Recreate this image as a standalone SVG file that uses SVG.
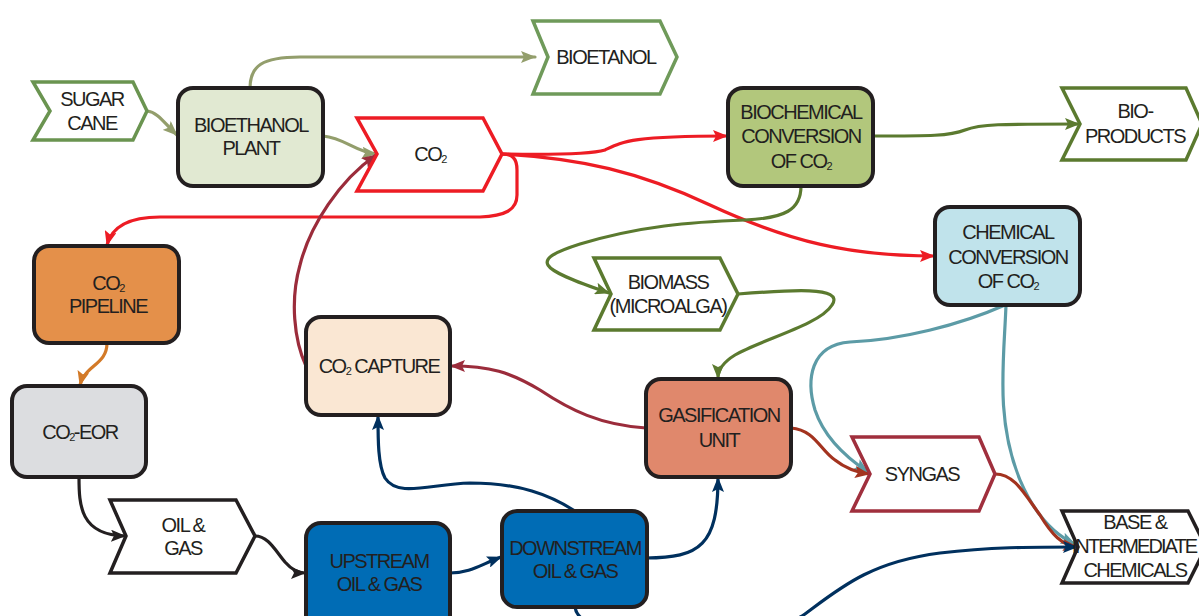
<svg xmlns="http://www.w3.org/2000/svg" width="1199" height="616" viewBox="0 0 1199 616">
<style>
.box{stroke:#231f20;stroke-width:4}
.chev{fill:#fff;stroke-width:3.5;stroke-linejoin:miter}
.t{font-family:"Liberation Sans",Arial,sans-serif;font-size:20px;letter-spacing:-1.5px;fill:#231f20;text-anchor:middle}
.c{fill:none;stroke-width:3.2;stroke-linecap:round}
</style>
<defs>
<marker id="a-olive" markerUnits="userSpaceOnUse" markerWidth="15" markerHeight="12" refX="14" refY="6" orient="auto"><path d="M0,0 L15,6 L0,12 L3,6 Z" fill="#939e6c"/></marker>
<marker id="a-red" markerUnits="userSpaceOnUse" markerWidth="15" markerHeight="12" refX="14" refY="6" orient="auto"><path d="M0,0 L15,6 L0,12 L3,6 Z" fill="#ed1c24"/></marker>
<marker id="a-green" markerUnits="userSpaceOnUse" markerWidth="15" markerHeight="12" refX="14" refY="6" orient="auto"><path d="M0,0 L15,6 L0,12 L3,6 Z" fill="#5b7a2f"/></marker>
<marker id="a-teal" markerUnits="userSpaceOnUse" markerWidth="15" markerHeight="12" refX="14" refY="6" orient="auto"><path d="M0,0 L15,6 L0,12 L3,6 Z" fill="#5c9ba6"/></marker>
<marker id="a-brown" markerUnits="userSpaceOnUse" markerWidth="15" markerHeight="12" refX="14" refY="6" orient="auto"><path d="M0,0 L15,6 L0,12 L3,6 Z" fill="#a3331f"/></marker>
<marker id="a-crimson" markerUnits="userSpaceOnUse" markerWidth="15" markerHeight="12" refX="14" refY="6" orient="auto"><path d="M0,0 L15,6 L0,12 L3,6 Z" fill="#9b2c3b"/></marker>
<marker id="a-navy" markerUnits="userSpaceOnUse" markerWidth="15" markerHeight="12" refX="14" refY="6" orient="auto"><path d="M0,0 L15,6 L0,12 L3,6 Z" fill="#00305e"/></marker>
<marker id="a-black" markerUnits="userSpaceOnUse" markerWidth="15" markerHeight="12" refX="14" refY="6" orient="auto"><path d="M0,0 L15,6 L0,12 L3,6 Z" fill="#231f20"/></marker>
<marker id="a-orange" markerUnits="userSpaceOnUse" markerWidth="15" markerHeight="12" refX="14" refY="6" orient="auto"><path d="M0,0 L15,6 L0,12 L3,6 Z" fill="#d37a28"/></marker>
</defs>
<rect width="1199" height="616" fill="#fff"/>

<g id="connectors">
<path class="c" stroke="#939e6c" d="M147,111 C158,112 165,124 177,135" marker-end="url(#a-olive)"/>
<path class="c" stroke="#939e6c" d="M250,88 C250,66 262,57 300,57 L535,57" marker-end="url(#a-olive)"/>
<path class="c" stroke="#939e6c" d="M323,136 C345,138 355,152 376,154" marker-end="url(#a-olive)"/>
<path class="c" stroke="#ed1c24" d="M502,154 C560,155 592,154 605,150 C622,142 630,136 727,136" marker-end="url(#a-red)"/>
<path class="c" stroke="#ed1c24" d="M502,154 C580,158 640,172 710,205 C790,242 850,256 934,256" marker-end="url(#a-red)"/>
<path class="c" stroke="#ed1c24" d="M502,154 C512,154 517,158 517,170 L517,195 C517,210 505,216 480,217 L160,217 C130,217 112,226 107,245" marker-end="url(#a-red)"/>
<path class="c" stroke="#5b7a2f" d="M801,186 C801,210 785,218 745,220 C690,222 640,226 580,244 C530,260 535,268 609,293" marker-end="url(#a-green)"/>
<path class="c" stroke="#5b7a2f" d="M738,294 C790,290 845,286 832,305 C820,325 760,340 735,355 C722,363 718,370 718,378" marker-end="url(#a-green)"/>
<path class="c" stroke="#5b7a2f" d="M873,136 C930,136 950,136 965,130 C980,124 1000,124 1079,124" marker-end="url(#a-green)"/>
<path class="c" stroke="#5c9ba6" d="M1005,305 C960,325 900,340 850,342 C810,345 806,380 815,410 C825,440 850,460 868,472" marker-end="url(#a-teal)"/>
<path class="c" stroke="#5c9ba6" d="M1006,305 C1004,360 995,420 1020,480 C1035,515 1055,535 1075,544" marker-end="url(#a-teal)"/>
<path class="c" stroke="#a3331f" d="M995,474 C1015,474 1025,495 1040,515 C1052,535 1062,545 1077,547" marker-end="url(#a-brown)"/>
<path class="c" stroke="#a3331f" d="M791,428 C815,430 820,450 835,460 C845,468 855,472 869,474" marker-end="url(#a-brown)"/>
<path class="c" stroke="#9b2c3b" d="M646,428 C600,425 570,410 540,390 C510,372 490,366 451,366" marker-end="url(#a-crimson)"/>
<path class="c" stroke="#9b2c3b" d="M306,366 C294,340 290,300 300,265 C310,225 340,180 376,155" marker-end="url(#a-crimson)"/>
<path class="c" stroke="#00305e" d="M575,511 C550,495 520,483 470,483 C430,484 398,498 385,478 C378,465 378,440 378,416" marker-end="url(#a-navy)"/>
<path class="c" stroke="#00305e" d="M450,573 C470,573 480,565 501,557" marker-end="url(#a-navy)"/>
<path class="c" stroke="#00305e" d="M646,558 C700,558 718,545 718,478" marker-end="url(#a-navy)"/>
<path class="c" stroke="#00305e" d="M575,607 C580,650 770,640 805,614 C840,588 870,562 940,553 C990,547 1030,547 1077,547" marker-end="url(#a-navy)"/>
<path class="c" stroke="#231f20" d="M255,536 C268,536 275,550 285,562 C292,570 298,573 305,573" marker-end="url(#a-black)"/>
<path class="c" stroke="#231f20" d="M79,477 C79,505 80,535 125,536" marker-end="url(#a-black)"/>
<path class="c" stroke="#d37a28" d="M107,343 C107,365 85,365 80,385" marker-end="url(#a-orange)"/>
</g>

<g id="sugar-cane">
<path class="chev" stroke="#6a9450" d="M33,82 L133,82 L147,111 L133,140 L33,140 L50,111 Z"/>
<text class="t" x="92" y="106">SUGAR</text>
<text class="t" x="92" y="130">CANE</text>
</g>
<g id="bioethanol-plant">
<rect class="box" x="178" y="88" width="145" height="98" rx="15" fill="#e1e9d2"/>
<text class="t" x="251" y="132">BIOETHANOL</text>
<text class="t" x="251" y="155">PLANT</text>
</g>
<g id="bioetanol">
<path class="chev" stroke="#6f9a5a" d="M533,21 L660,21 L677,57 L660,94 L533,94 L548,57 Z"/>
<text class="t" x="606" y="64">BIOETANOL</text>
</g>
<g id="co2">
<path class="chev" stroke="#ed1c24" d="M357,118 L483,118 L502,154 L483,191 L357,191 L377,154 Z"/>
<text class="t" x="430" y="161">CO<tspan font-size="11" dy="2">2</tspan></text>
</g>
<g id="biochemical-conversion">
<rect class="box" x="728" y="88" width="145" height="98" rx="15" fill="#b2c77c"/>
<text class="t" x="801" y="119">BIOCHEMICAL</text>
<text class="t" x="801" y="143">CONVERSION</text>
<text class="t" x="801" y="168">OF CO<tspan font-size="11" dy="2">2</tspan></text>
</g>
<g id="bio-products">
<path class="chev" stroke="#5b7a2f" d="M1062,88 L1186,88 L1202,124 L1186,160 L1062,160 L1080,124 Z"/>
<text class="t" x="1135" y="118">BIO-</text>
<text class="t" x="1135" y="143">PRODUCTS</text>
</g>
<g id="chemical-conversion">
<rect class="box" x="935" y="207" width="145" height="98" rx="15" fill="#c0e3eb"/>
<text class="t" x="1008" y="239">CHEMICAL</text>
<text class="t" x="1008" y="264">CONVERSION</text>
<text class="t" x="1008" y="288">OF CO<tspan font-size="11" dy="2">2</tspan></text>
</g>
<g id="biomass">
<path class="chev" stroke="#5b7a2f" d="M594,258 L720,258 L738,294 L720,330 L594,330 L611,294 Z"/>
<text class="t" x="668" y="289">BIOMASS</text>
<text class="t" x="668" y="313">(MICROALGA)</text>
</g>
<g id="co2-pipeline">
<rect class="box" x="34" y="246" width="145" height="97" rx="15" fill="#e4904a"/>
<text class="t" x="108" y="290">CO<tspan font-size="11" dy="2">2</tspan></text>
<text class="t" x="108" y="313">PIPELINE</text>
</g>
<g id="co2-eor">
<rect class="box" x="12" y="386" width="134" height="91" rx="15" fill="#dcdde0"/>
<text class="t" x="80" y="439">CO<tspan font-size="11" dy="2">2</tspan><tspan dy="-2">-EOR</tspan></text>
</g>
<g id="oil-gas">
<path class="chev" stroke="#231f20" d="M110,500 L236,500 L255,536 L236,573 L110,573 L126,536 Z"/>
<text class="t" x="183" y="532">OIL &amp;</text>
<text class="t" x="183" y="555">GAS</text>
</g>
<g id="co2-capture">
<rect class="box" x="306" y="317" width="144" height="98" rx="15" fill="#fae7d3"/>
<text class="t" x="379" y="373">CO<tspan font-size="11" dy="2">2</tspan><tspan dy="-2"> CAPTURE</tspan></text>
</g>
<g id="upstream">
<rect class="box" x="306" y="523" width="144" height="112" rx="15" fill="#006cb5"/>
<text class="t" x="379" y="568">UPSTREAM</text>
<text class="t" x="379" y="591">OIL &amp; GAS</text>
</g>
<g id="downstream">
<rect class="box" x="502" y="511" width="145" height="96" rx="15" fill="#006cb5"/>
<text class="t" x="575" y="555">DOWNSTREAM</text>
<text class="t" x="575" y="578">OIL &amp; GAS</text>
</g>
<g id="gasification">
<rect class="box" x="646" y="379" width="145" height="98" rx="15" fill="#e0886c"/>
<text class="t" x="719" y="422">GASIFICATION</text>
<text class="t" x="719" y="447">UNIT</text>
</g>
<g id="syngas">
<path class="chev" stroke="#a02f3d" d="M852,437 L979,437 L995,474 L979,511 L852,511 L870,474 Z"/>
<text class="t" x="922" y="481">SYNGAS</text>
</g>
<g id="base-chemicals">
<path class="chev" stroke="#231f20" d="M1062,511 L1188,511 L1206,547 L1188,583 L1062,583 L1078,547 Z"/>
<text class="t" x="1135" y="529">BASE &amp;</text>
<text class="t" x="1134" y="553" style="letter-spacing:-1.9px">INTERMEDIATE</text>
<text class="t" x="1135" y="577">CHEMICALS</text>
</g>
</svg>
